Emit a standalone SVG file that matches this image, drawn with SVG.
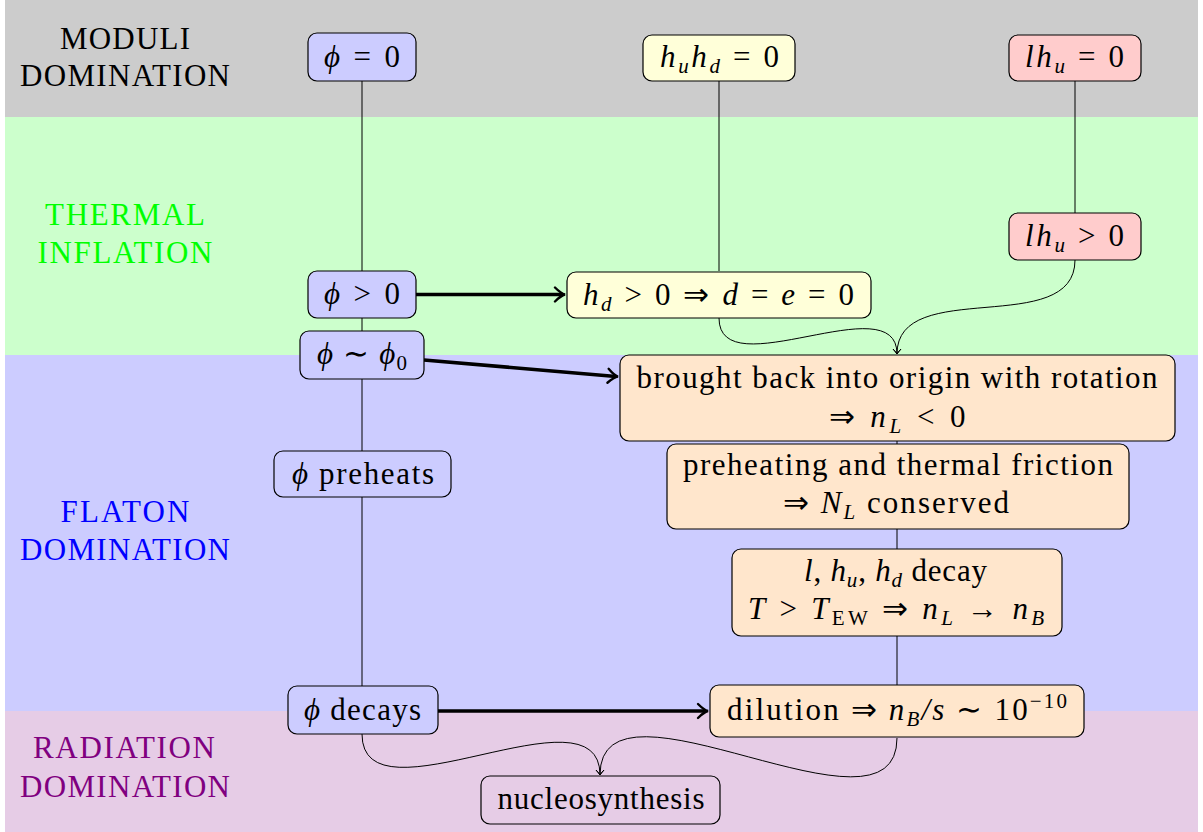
<svg xmlns="http://www.w3.org/2000/svg" width="1203" height="832" viewBox="0 0 1203 832">
<defs>
<style>
.t{font-family:'Liberation Serif','Times New Roman',serif;font-size:31px;fill:#000;text-anchor:middle}
.lab{font-family:'Liberation Serif','Times New Roman',serif;font-size:31px;text-anchor:middle}
.i{font-style:italic}
.s{font-size:21px;font-style:italic}
.su{font-size:21px;font-style:normal}
.node{stroke:#000;stroke-width:1.2}
.blue{fill:#ccccff}
.yel{fill:#ffffd9}
.red{fill:#ffcccc}
.org{fill:#ffe6cc}
.thin{fill:none;stroke:#000;stroke-width:1}
.thick{fill:none;stroke:#000;stroke-width:3.6}
</style>
<marker id="ah" markerUnits="userSpaceOnUse" viewBox="-12 -9 16 18" markerWidth="16" markerHeight="18" refX="-1" refY="0" orient="auto">
<path d="M-9,-7 Q-3,-1 1,0 Q-3,1 -9,7" fill="none" stroke="#000" stroke-width="2.4" stroke-linecap="round"/>
</marker>
<marker id="as" markerUnits="userSpaceOnUse" viewBox="-8 -6 10 12" markerWidth="10" markerHeight="12" refX="0" refY="0" orient="auto">
<path d="M-5,-4 Q-1.5,-0.8 0,0 Q-1.5,0.8 -5,4" fill="none" stroke="#000" stroke-width="1"/>
</marker>
</defs>

<g id="bands">
<rect x="5" y="0" width="1193" height="117" fill="#cccccc"/>
<rect x="5" y="117" width="1193" height="238" fill="#ccffcc"/>
<rect x="5" y="355" width="1193" height="356" fill="#ccccff"/>
<rect x="5" y="711" width="1193" height="121" fill="#e6cce6"/>
<text class="lab" x="125" y="49" fill="#000" textLength="130">MODULI</text>
<text class="lab" x="125" y="86" fill="#000" textLength="210">DOMINATION</text>
<text class="lab" x="125" y="225" fill="#00ff00" textLength="160">THERMAL</text>
<text class="lab" x="125" y="263" fill="#00ff00" textLength="175">INFLATION</text>
<text class="lab" x="125" y="522" fill="#0000ff" textLength="129">FLATON</text>
<text class="lab" x="125" y="560" fill="#0000ff" textLength="210">DOMINATION</text>
<text class="lab" x="124" y="758" fill="#800080" textLength="182">RADIATION</text>
<text class="lab" x="125" y="797" fill="#800080" textLength="210">DOMINATION</text>
</g>

<g id="connectors">
<line class="thin" x1="362" y1="81" x2="362" y2="686"/>
<line class="thin" x1="719" y1="81" x2="719" y2="271"/>
<line class="thin" x1="1075" y1="81" x2="1075" y2="213"/>
<line class="thin" x1="897" y1="441" x2="897" y2="686"/>
<path class="thin" d="M719,318 C719,389 897,284 897,354" marker-end="url(#as)"/>
<path class="thin" d="M1075,260 C1075,339 897,276 897,354" marker-end="url(#as)"/>
<path class="thin" d="M362,734 C362,829 600,681 600,775" marker-end="url(#as)"/>
<path class="thin" d="M897,738 C897,855 600,659 600,775" marker-end="url(#as)"/>
<line class="thick" x1="416" y1="294.5" x2="563" y2="294.5" marker-end="url(#ah)"/>
<line class="thick" x1="424" y1="360" x2="616" y2="376.5" marker-end="url(#ah)"/>
<line class="thick" x1="438" y1="711" x2="706" y2="711" marker-end="url(#ah)"/>
</g>

<g id="n-phi0">
<rect class="node blue" x="308" y="33" width="108" height="48" rx="9"/>
<text class="t" x="362" y="67" textLength="76"><tspan class="i">ϕ</tspan> = 0</text>
</g>
<g id="n-huhd0">
<rect class="node yel" x="643" y="35" width="152" height="46" rx="9"/>
<text class="t" x="719.5" y="67" textLength="119"><tspan class="i">h</tspan><tspan class="s" dy="6">u</tspan><tspan class="i" dy="-6">h</tspan><tspan class="s" dy="6">d</tspan><tspan dy="-6"> = 0</tspan></text>
</g>
<g id="n-lhu0">
<rect class="node red" x="1009" y="35" width="132" height="46" rx="9"/>
<text class="t" x="1074.5" y="67" textLength="99"><tspan class="i">lh</tspan><tspan class="s" dy="6">u</tspan><tspan dy="-6"> = 0</tspan></text>
</g>
<g id="n-lhupos">
<rect class="node red" x="1009" y="213" width="132" height="47" rx="9"/>
<text class="t" x="1074.5" y="246" textLength="99"><tspan class="i">lh</tspan><tspan class="s" dy="6">u</tspan><tspan dy="-6"> &gt; 0</tspan></text>
</g>
<g id="n-phipos">
<rect class="node blue" x="308" y="271" width="108" height="47" rx="9"/>
<text class="t" x="362" y="304" textLength="76"><tspan class="i">ϕ</tspan> &gt; 0</text>
</g>
<g id="n-hdpos">
<rect class="node yel" x="567" y="272" width="304" height="46" rx="9"/>
<text class="t" x="718.5" y="305" textLength="271"><tspan class="i">h</tspan><tspan class="s" dy="6">d</tspan><tspan dy="-6"> &gt; 0 ⇒ </tspan><tspan class="i">d</tspan> = <tspan class="i">e</tspan> = 0</text>
</g>
<g id="n-phisim">
<rect class="node blue" x="300" y="331" width="124" height="48" rx="9"/>
<text class="t" x="362" y="364" textLength="90"><tspan class="i">ϕ</tspan> ∼ <tspan class="i">ϕ</tspan><tspan class="su" dy="6">0</tspan></text>
</g>
<g id="n-brought">
<rect class="node org" x="620" y="355" width="555" height="86" rx="9"/>
<text class="t" x="897" y="388" textLength="521">brought back into origin with rotation</text>
<text class="t" x="897" y="427" textLength="137">⇒ <tspan class="i">n</tspan><tspan class="s" dy="6">L</tspan><tspan dy="-6"> &lt; 0</tspan></text>
</g>
<g id="n-phipre">
<rect class="node blue" x="274" y="451" width="177" height="46" rx="9"/>
<text class="t" x="363" y="484" textLength="142"><tspan class="i">ϕ</tspan> preheats</text>
</g>
<g id="n-preheat">
<rect class="node org" x="667" y="444" width="462" height="85" rx="9"/>
<text class="t" x="898" y="475" textLength="430">preheating and thermal friction</text>
<text class="t" x="896" y="513" textLength="226">⇒ <tspan class="i">N</tspan><tspan class="s" dy="6">L</tspan><tspan dy="-6"> conserved</tspan></text>
</g>
<g id="n-decay">
<rect class="node org" x="732" y="549" width="330" height="87" rx="9"/>
<text class="t" x="895.5" y="581" textLength="183"><tspan class="i">l</tspan>, <tspan class="i">h</tspan><tspan class="s" dy="6">u</tspan><tspan dy="-6">, </tspan><tspan class="i">h</tspan><tspan class="s" dy="6">d</tspan><tspan dy="-6"> decay</tspan></text>
<text class="t" x="896" y="619" textLength="296"><tspan class="i">T</tspan> &gt; <tspan class="i">T</tspan><tspan class="su" dy="6">EW</tspan><tspan dy="-6"> ⇒ </tspan><tspan class="i">n</tspan><tspan class="s" dy="6">L</tspan><tspan dy="-6"> → </tspan><tspan class="i">n</tspan><tspan class="s" dy="6">B</tspan></text>
</g>
<g id="n-phidec">
<rect class="node blue" x="288" y="686" width="150" height="48" rx="9"/>
<text class="t" x="362.5" y="720" textLength="117"><tspan class="i">ϕ</tspan> decays</text>
</g>
<g id="n-dilution">
<rect class="node org" x="710" y="685" width="374" height="52" rx="9"/>
<text class="t" x="897" y="720" textLength="340">dilution ⇒ <tspan class="i">n</tspan><tspan class="s" dy="6">B</tspan><tspan class="i" dy="-6">/s</tspan> ∼ 10<tspan class="su" dy="-12">−10</tspan></text>
</g>
<g id="n-nucleo">
<rect class="node" x="481" y="776" width="239" height="48" rx="9" fill="none"/>
<text class="t" x="601" y="809" textLength="207">nucleosynthesis</text>
</g>
</svg>
